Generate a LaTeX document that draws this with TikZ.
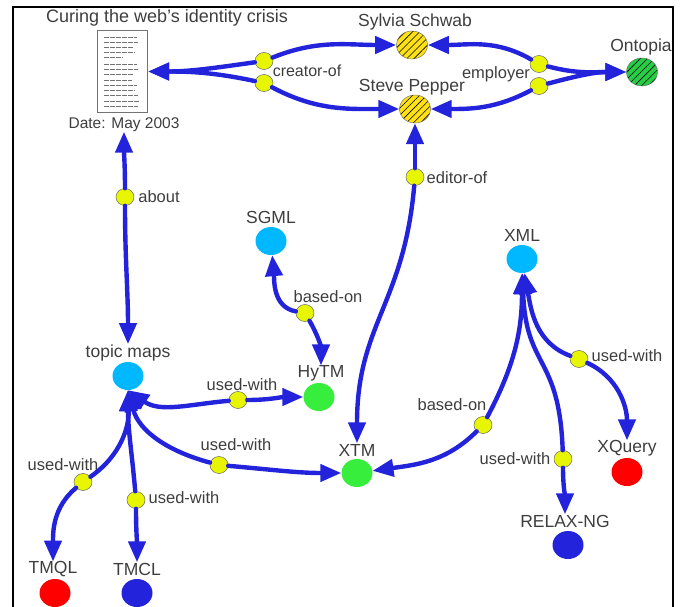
\documentclass[tikz,border=0pt]{standalone}
\usepackage{fontspec}
\setmainfont{Liberation Sans}
\usetikzlibrary{shapes.geometric,arrows.meta,patterns.meta}
\definecolor{linkblue}{RGB}{35,35,220}
\definecolor{junction}{RGB}{232,245,0}
\definecolor{skyblue}{RGB}{0,184,255}
\definecolor{topicgreen}{RGB}{56,238,60}
\definecolor{hatchgreen}{RGB}{40,205,70}
\definecolor{hatchyellow}{RGB}{255,225,20}
\definecolor{txtgray}{RGB}{62,62,62}
\tikzset{
	topic/.style={ellipse, minimum width=31pt, minimum height=28pt, inner sep=0pt},
	hatched/.style={topic, draw=black!60, thin, preaction={fill=#1}, pattern={Lines[angle=45,distance=5pt,line width=0.6pt]}},
	assoc/.style={ellipse, minimum width=18pt, minimum height=17pt, inner sep=0pt, draw=black!60, fill=junction, line width=0.5pt},
	lbl/.style={inner sep=0pt, text=txtgray, font=\fontsize{17.5}{19}\selectfont, minimum height=14pt, yshift=-1.5pt},
	rolelbl/.style={inner sep=0pt, text=txtgray, font=\fontsize{16.5}{18}\selectfont, yshift=-1pt},
	link/.style={draw=linkblue, line width=4.4pt, ->}
}
\begin{document}
\begin{tikzpicture}[x=1pt, y=-1pt, line cap=round, >={Triangle[length=21pt,width=17pt]}]
	\useasboundingbox (0,0) rectangle (683,607);
	%%%%%%%%%%%%%%%%%%%%%%%%%%%%%%%%%
	\draw[line width=2.4pt, line cap=butt] (13,607) -- (13,7) -- (673,7) -- (673,607);
	%%%%%%%%%%%%%%%%%%%%%%%%%%%%%%%%%
	\node[lbl, font=\fontsize{18}{20}\selectfont] (title) at (167,16) {Curing the web's identity crisis};
	\node[draw=black!55, line width=1.4pt, fill=white, minimum width=50pt, minimum height=82pt, inner sep=0pt] (doc) at (122.5,71.5) {};
	\foreach \y/\w in {38/33,43/34,48/30,53/31,58/19,65/33,70/34,75/30,81/28,86/33,91/31,96/34,102/36,107/34} {
		\draw[black!55, line width=1pt, dash pattern=on 5pt off 1pt, line cap=butt] (104,\y) -- ++(\w,0);
	}
	\node[lbl, font=\fontsize{15.5}{17}\selectfont] (date) at (124,123) {Date: May 2003};
	%%%%%%%%%%%%%%%%%%%%%%%%%%%%%%%%%
	\node[hatched=hatchyellow] (sylvia) at (412,45) {};
	\node[hatched=hatchyellow] (steve) at (415,109) {};
	\node[hatched=hatchgreen] (ontopia) at (642,72) {};
	\node[topic, fill=skyblue] (topicmaps) at (128,376) {};
	\node[topic, fill=skyblue] (sgml) at (271,241) {};
	\node[topic, fill=skyblue] (xml) at (522,259) {};
	\node[topic, fill=topicgreen] (hytm) at (319,397) {};
	\node[topic, fill=topicgreen] (xtm) at (357,473) {};
	\node[topic, fill=red] (xquery) at (627,472) {};
	\node[topic, fill=red] (tmql) at (55,593) {};
	\node[topic, fill=linkblue] (tmcl) at (137,593) {};
	\node[topic, fill=linkblue] (relaxng) at (568,545) {};
	%%%%%%%%%%%%%%%%%%%%%%%%%%%%%%%%%
	\node[lbl] (sylvialbl) at (415,20) {Sylvia Schwab};
	\node[lbl] (stevelbl) at (412,86) {Steve Pepper};
	\node[lbl] (ontopialbl) at (641,45) {Ontopia};
	\node[lbl] (topicmapslbl) at (128,351) {topic maps};
	\node[lbl] (sgmllbl) at (271,216) {SGML};
	\node[lbl] (xmllbl) at (522,234) {XML};
	\node[lbl] (hytmlbl) at (321,372) {HyTM};
	\node[lbl] (xtmlbl) at (357,449) {XTM};
	\node[lbl] (xquerylbl) at (627,447) {XQuery};
	\node[lbl] (tmqllbl) at (53,568) {TMQL};
	\node[lbl] (tmcllbl) at (137,568) {TMCL};
	\node[lbl] (relaxnglbl) at (565,520) {RELAX-NG};
	%%%%%%%%%%%%%%%%%%%%%%%%%%%%%%%%%
	\node[assoc] (creatorA) at (264,61) {};
	\node[assoc] (creatorB) at (264,83) {};
	\node[assoc] (employerA) at (539,64) {};
	\node[assoc] (employerB) at (539,86) {};
	\node[assoc] (editor) at (415,177) {};
	\node[assoc] (about) at (125,197) {};
	\node[assoc] (basedA) at (305,313) {};
	\node[assoc] (basedB) at (483,425) {};
	\node[assoc] (usedA) at (238,400) {};
	\node[assoc] (usedB) at (219,465) {};
	\node[assoc] (usedC) at (83,482) {};
	\node[assoc] (usedD) at (136,500) {};
	\node[assoc] (usedE) at (563,459) {};
	\node[assoc] (usedF) at (579,359) {};
	%%%%%%%%%%%%%%%%%%%%%%%%%%%%%%%%%
	\node[rolelbl, font=\fontsize{16}{18}\selectfont] (creatorlbl) at (307,70) {creator-of};
	\node[rolelbl] (employerlbl) at (496,73) {employer};
	\node[rolelbl] (editorlbl) at (457,177) {editor-of};
	\node[rolelbl] (aboutlbl) at (159,196) {about};
	\node[rolelbl] (basedAlbl) at (328,296) {based-on};
	\node[rolelbl] (basedBlbl) at (452,404) {based-on};
	\node[rolelbl] (usedAlbl) at (242,384) {used-with};
	\node[rolelbl] (usedBlbl) at (236,444) {used-with};
	\node[rolelbl] (usedClbl) at (63,464) {used-with};
	\node[rolelbl] (usedDlbl) at (184,497) {used-with};
	\node[rolelbl] (usedElbl) at (515,458) {used-with};
	\node[rolelbl] (usedFlbl) at (627,355) {used-with};
	%%%%%%%%%%%%%%%%%%%%%%%%%%%%%%%%%
	\draw[link] (creatorA) to[out=188,in=0] (doc);
	\draw[link] (creatorB) to[out=168,in=0] (doc);
	\draw[link] (creatorA) to[out=22,in=180] (sylvia);
	\draw[link] (creatorB) to[out=-28,in=180] (steve);
	\draw[link] (employerA) to[out=150,in=0] (sylvia);
	\draw[link] (employerB) to[out=208,in=0] (steve);
	\draw[link] (employerA) to[out=-15,in=180] (ontopia);
	\draw[link] (employerB) to[out=15,in=180] (ontopia);
	\draw[link] (editor) to[out=90,in=-90] (steve);
	\draw[link] (editor) to[out=-95,in=90,looseness=1.15] (xtmlbl);
	\draw[link] (about) to[out=90,in=-90] (date);
	\draw[link] (about) to[out=-90,in=90] (topicmapslbl);
	\draw[link] (basedA) to[out=170,in=-85] (sgml);
	\draw[link] (basedA) to[out=-60,in=90] (hytmlbl);
	\draw[link] (basedB) to[out=-135,in=8] (xtm);
	\draw[link] (basedB) to[out=62,in=-90] (xml);
	\draw[link] (usedA) to[out=185,in=-35] (topicmaps.south);
	\draw[link] (usedA) to[out=0,in=180] (hytm);
	\draw[link] (usedB) to[out=165,in=-75] (topicmaps.south);
	\draw[link] (usedB) to[out=-5,in=180] (xtm);
	\draw[link] (usedC) to[out=35,in=-88] (topicmaps.south);
	\draw[link] (usedC) to[out=-140,in=90] (tmqllbl);
	\draw[link] (usedD) to[out=95,in=-90] (topicmaps.south);
	\draw[link] (usedD) to[out=-90,in=90] (tmcllbl);
	\draw[link] (usedE) to[out=92,in=-88,looseness=1.35] (xml);
	\draw[link] (usedE) to[out=-90,in=90] (relaxnglbl);
	\draw[link] (usedF) to[out=160,in=-80] (xml);
	\draw[link] (usedF) to[out=-25,in=90] (xquerylbl);
	%%%%%%%%%%%%%%%%%%%%%%%%%%%%%%%%%
\end{tikzpicture}
\end{document}
